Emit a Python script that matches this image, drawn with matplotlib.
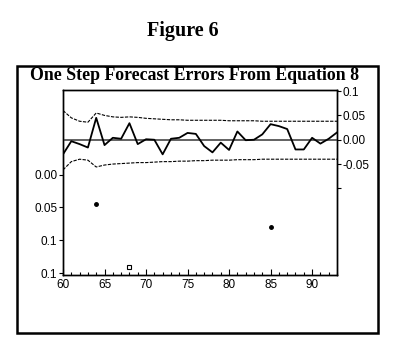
import numpy as np
import matplotlib.pyplot as plt
from matplotlib.patches import Rectangle

plt.rcParams['font.family'] = ['Liberation Sans', 'DejaVu Sans']

# Dados
anos = list(range(60, 94))
erros = [-0.030, -0.003, -0.009, -0.016, 0.045, -0.011, 0.004, 0.002, 0.034, -0.009,
         0.001, 0.000, -0.030, 0.002, 0.004, 0.014, 0.012, -0.013, -0.026, -0.006,
         -0.021, 0.017, -0.001, 0.000, 0.011, 0.032, 0.028, 0.022, -0.020, -0.020,
         0.004, -0.008, 0.002, 0.015]
banda_sup = [0.060, 0.045, 0.038, 0.036, 0.055, 0.050, 0.047, 0.046, 0.047, 0.046,
             0.044, 0.043, 0.042, 0.041, 0.041, 0.040, 0.040, 0.040, 0.040, 0.040,
             0.039, 0.039, 0.039, 0.039, 0.038, 0.038, 0.038, 0.038, 0.038, 0.038,
             0.038, 0.038, 0.038, 0.038]
banda_inf = [-0.062, -0.045, -0.040, -0.042, -0.056, -0.052, -0.050, -0.049, -0.048, -0.047,
             -0.047, -0.046, -0.045, -0.045, -0.044, -0.044, -0.043, -0.043, -0.042, -0.042,
             -0.042, -0.041, -0.041, -0.041, -0.040, -0.040, -0.040, -0.040, -0.040, -0.040,
             -0.040, -0.040, -0.040, -0.040]

# pontos no eixo da esquerda
anos_pts = [64, 68, 85]
valores_pts = [-0.044, -0.141, -0.080]

ticks_esq = [0.0, -0.05, -0.10, -0.15]
rotulos_esq = ['0.00', '0.05', '0.1', '0.1']
ticks_dir = [0.1, 0.05, 0.0, -0.05, -0.1]
rotulos_dir = ['0.1', '0.05', '0.00', '-0.05', '']
ticks_x = [60, 65, 70, 75, 80, 85, 90]

fig = plt.figure(figsize=(3.97, 3.59), dpi=100)
ax = fig.add_axes([0.1587, 0.234, 0.6902, 0.515])
ax2 = ax.twinx()

# eixo esquerdo: pontos isolados
ax.plot(anos_pts[:1] + anos_pts[2:], valores_pts[:1] + valores_pts[2:], 'o',
        color='black', markersize=2.5)
ax.plot(anos_pts[1], valores_pts[1], 's', markerfacecolor='white',
        markeredgecolor='black', markersize=2.5, markeredgewidth=0.8)
ax.set_ylim(-0.153, 0.129)
ax.set_yticks(ticks_esq)
ax.set_yticklabels(rotulos_esq)

# eixo direito: erros e bandas
ax2.axhline(0, color='#555555', lw=1.3)
ax2.plot(anos, erros, color='black', lw=1.3)
ax2.plot(anos, banda_sup, color='black', lw=0.8, dashes=(3, 1.2))
ax2.plot(anos, banda_inf, color='black', lw=0.8, dashes=(3, 1.2))
ax2.set_ylim(-0.278, 0.102)
ax2.set_yticks(ticks_dir)
ax2.set_yticklabels(rotulos_dir)

ax.set_xlim(60, 93)
ax.set_xticks(ticks_x)
ax.set_xticks(range(60, 94), minor=True)

for a in (ax, ax2):
    for s in a.spines.values():
        s.set_linewidth(1.0)
    a.tick_params(labelsize=8.5, length=3, width=0.8, pad=1)
ax.tick_params(axis='x', direction='in', length=4, pad=3)
ax.tick_params(axis='x', which='minor', direction='in', length=2.5, width=0.8)

fig.text(0.46, 0.915, 'Figure 6', ha='center', va='center',
         family='Liberation Serif', weight='bold', fontsize=14.5)
fig.text(0.49, 0.79, 'One Step Forecast Errors From Equation 8', ha='center',
         va='center', family='Liberation Serif', weight='bold', fontsize=12.8)

fig.add_artist(Rectangle((0.044, 0.072), 0.907, 0.745, transform=fig.transFigure,
                         fill=False, lw=1.8, edgecolor='black'))

fig.savefig('out.png', dpi=100)
